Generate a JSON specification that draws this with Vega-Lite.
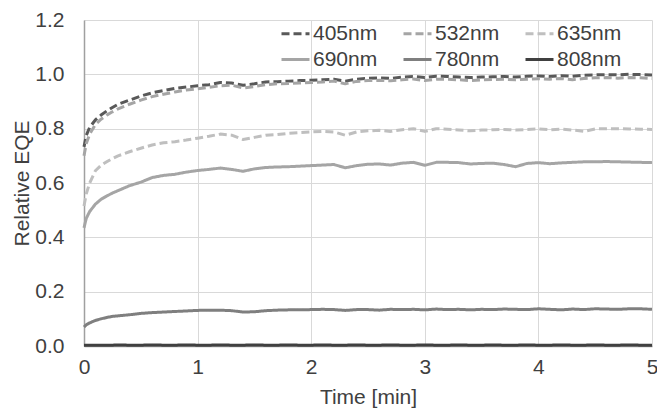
{
  "$schema": "https://vega.github.io/schema/vega-lite/v6.json",
  "width": 568,
  "height": 326,
  "autosize": {"type": "none"},
  "padding": {"left": 84, "top": 20, "right": 5, "bottom": 62},
  "background": "white",
  "config": {
    "font": "Liberation Sans",
    "view": {"stroke": null},
    "axis": {
      "labelFont": "Liberation Sans",
      "titleFont": "Liberation Sans",
      "labelFontSize": 21,
      "titleFontSize": 21,
      "titleFontWeight": "normal",
      "labelColor": "#404040",
      "titleColor": "#404040",
      "gridColor": "#d9d9d9",
      "gridWidth": 1,
      "ticks": false,
      "labelFlush": false,
      "domainColor": "#a0a0a0",
      "domainWidth": 1.5
    },
    "legend": {
      "orient": "none",
      "legendX": 196,
      "legendY": -2,
      "columns": 3,
      "direction": "horizontal",
      "symbolType": "stroke",
      "symbolSize": 784,
      "symbolStrokeWidth": 3,
      "labelFont": "Liberation Sans",
      "labelFontSize": 21,
      "labelColor": "#404040",
      "columnPadding": 19,
      "rowPadding": 0,
      "labelOffset": 2,
      "padding": 0
    }
  },
  "data": {
    "values": [
      {"t": 0, "405nm": 0.733, "532nm": 0.7, "635nm": 0.515, "690nm": 0.435, "780nm": 0.07, "808nm": 0.003},
      {"t": 0.02, "405nm": 0.775, "532nm": 0.745, "635nm": 0.56, "690nm": 0.47, "780nm": 0.078, "808nm": 0.003},
      {"t": 0.05, "405nm": 0.805, "532nm": 0.78, "635nm": 0.6, "690nm": 0.495, "780nm": 0.085, "808nm": 0.003},
      {"t": 0.1, "405nm": 0.832, "532nm": 0.815, "635nm": 0.645, "690nm": 0.522, "780nm": 0.094, "808nm": 0.003},
      {"t": 0.15, "405nm": 0.85, "532nm": 0.835, "635nm": 0.665, "690nm": 0.54, "780nm": 0.1, "808nm": 0.003},
      {"t": 0.2, "405nm": 0.865, "532nm": 0.85, "635nm": 0.678, "690nm": 0.552, "780nm": 0.105, "808nm": 0.003},
      {"t": 0.25, "405nm": 0.878, "532nm": 0.862, "635nm": 0.69, "690nm": 0.563, "780nm": 0.109, "808nm": 0.003},
      {"t": 0.3, "405nm": 0.89, "532nm": 0.873, "635nm": 0.7, "690nm": 0.572, "780nm": 0.111, "808nm": 0.004},
      {"t": 0.4, "405nm": 0.905, "532nm": 0.89, "635nm": 0.715, "690nm": 0.59, "780nm": 0.115, "808nm": 0.003},
      {"t": 0.5, "405nm": 0.92, "532nm": 0.905, "635nm": 0.728, "690nm": 0.603, "780nm": 0.12, "808nm": 0.003},
      {"t": 0.6, "405nm": 0.932, "532nm": 0.918, "635nm": 0.74, "690nm": 0.62, "780nm": 0.123, "808nm": 0.004},
      {"t": 0.7, "405nm": 0.94, "532nm": 0.927, "635nm": 0.748, "690nm": 0.628, "780nm": 0.125, "808nm": 0.003},
      {"t": 0.8, "405nm": 0.948, "532nm": 0.935, "635nm": 0.752, "690nm": 0.632, "780nm": 0.127, "808nm": 0.003},
      {"t": 0.9, "405nm": 0.953, "532nm": 0.942, "635nm": 0.758, "690nm": 0.64, "780nm": 0.129, "808nm": 0.004},
      {"t": 1.0, "405nm": 0.958, "532nm": 0.947, "635nm": 0.765, "690nm": 0.646, "780nm": 0.131, "808nm": 0.003},
      {"t": 1.1, "405nm": 0.962, "532nm": 0.952, "635nm": 0.772, "690nm": 0.65, "780nm": 0.132, "808nm": 0.003},
      {"t": 1.2, "405nm": 0.97, "532nm": 0.958, "635nm": 0.78, "690nm": 0.655, "780nm": 0.132, "808nm": 0.004},
      {"t": 1.3, "405nm": 0.968, "532nm": 0.96, "635nm": 0.776, "690nm": 0.65, "780nm": 0.13, "808nm": 0.003},
      {"t": 1.4, "405nm": 0.96, "532nm": 0.95, "635nm": 0.76, "690nm": 0.643, "780nm": 0.125, "808nm": 0.003},
      {"t": 1.5, "405nm": 0.965, "532nm": 0.955, "635nm": 0.768, "690nm": 0.652, "780nm": 0.126, "808nm": 0.004},
      {"t": 1.6, "405nm": 0.972, "532nm": 0.962, "635nm": 0.776, "690nm": 0.657, "780nm": 0.13, "808nm": 0.003},
      {"t": 1.7, "405nm": 0.973, "532nm": 0.965, "635nm": 0.778, "690nm": 0.659, "780nm": 0.132, "808nm": 0.003},
      {"t": 1.8, "405nm": 0.975, "532nm": 0.966, "635nm": 0.783, "690nm": 0.66, "780nm": 0.133, "808nm": 0.004},
      {"t": 1.9, "405nm": 0.977, "532nm": 0.968, "635nm": 0.786, "690nm": 0.662, "780nm": 0.133, "808nm": 0.003},
      {"t": 2.0, "405nm": 0.978, "532nm": 0.97, "635nm": 0.788, "690nm": 0.664, "780nm": 0.134, "808nm": 0.003},
      {"t": 2.1, "405nm": 0.98, "532nm": 0.972, "635nm": 0.79, "690nm": 0.666, "780nm": 0.135, "808nm": 0.004},
      {"t": 2.2, "405nm": 0.982, "532nm": 0.975, "635nm": 0.788, "690nm": 0.668, "780nm": 0.134, "808nm": 0.003},
      {"t": 2.3, "405nm": 0.975, "532nm": 0.965, "635nm": 0.776, "690nm": 0.656, "780nm": 0.131, "808nm": 0.003},
      {"t": 2.4, "405nm": 0.982, "532nm": 0.974, "635nm": 0.788, "690nm": 0.664, "780nm": 0.134, "808nm": 0.004},
      {"t": 2.5, "405nm": 0.985, "532nm": 0.977, "635nm": 0.792, "690nm": 0.669, "780nm": 0.134, "808nm": 0.003},
      {"t": 2.6, "405nm": 0.987, "532nm": 0.978, "635nm": 0.794, "690nm": 0.67, "780nm": 0.132, "808nm": 0.003},
      {"t": 2.7, "405nm": 0.985, "532nm": 0.976, "635nm": 0.79, "690nm": 0.666, "780nm": 0.135, "808nm": 0.004},
      {"t": 2.8, "405nm": 0.99, "532nm": 0.98, "635nm": 0.796, "690nm": 0.673, "780nm": 0.134, "808nm": 0.003},
      {"t": 2.9, "405nm": 0.992, "532nm": 0.983, "635nm": 0.8, "690nm": 0.676, "780nm": 0.135, "808nm": 0.003},
      {"t": 3.0, "405nm": 0.988, "532nm": 0.977, "635nm": 0.79, "690nm": 0.665, "780nm": 0.133, "808nm": 0.004},
      {"t": 3.1, "405nm": 0.993, "532nm": 0.982, "635nm": 0.8, "690nm": 0.676, "780nm": 0.136, "808nm": 0.003},
      {"t": 3.2, "405nm": 0.992, "532nm": 0.982, "635nm": 0.798, "690nm": 0.676, "780nm": 0.134, "808nm": 0.003},
      {"t": 3.3, "405nm": 0.99, "532nm": 0.98, "635nm": 0.795, "690nm": 0.675, "780nm": 0.135, "808nm": 0.004},
      {"t": 3.4, "405nm": 0.988, "532nm": 0.977, "635nm": 0.792, "690nm": 0.67, "780nm": 0.133, "808nm": 0.003},
      {"t": 3.5, "405nm": 0.99, "532nm": 0.98, "635nm": 0.795, "690nm": 0.672, "780nm": 0.135, "808nm": 0.003},
      {"t": 3.6, "405nm": 0.991, "532nm": 0.981, "635nm": 0.796, "690nm": 0.673, "780nm": 0.134, "808nm": 0.004},
      {"t": 3.7, "405nm": 0.992, "532nm": 0.982, "635nm": 0.797, "690nm": 0.668, "780nm": 0.136, "808nm": 0.003},
      {"t": 3.8, "405nm": 0.99, "532nm": 0.98, "635nm": 0.795, "690nm": 0.66, "780nm": 0.135, "808nm": 0.003},
      {"t": 3.9, "405nm": 0.993, "532nm": 0.982, "635nm": 0.797, "690nm": 0.672, "780nm": 0.134, "808nm": 0.004},
      {"t": 4.0, "405nm": 0.994, "532nm": 0.984, "635nm": 0.799, "690nm": 0.675, "780nm": 0.137, "808nm": 0.003},
      {"t": 4.1, "405nm": 0.992, "532nm": 0.982, "635nm": 0.796, "690nm": 0.671, "780nm": 0.135, "808nm": 0.003},
      {"t": 4.2, "405nm": 0.995, "532nm": 0.985, "635nm": 0.798, "690nm": 0.674, "780nm": 0.133, "808nm": 0.004},
      {"t": 4.3, "405nm": 0.993, "532nm": 0.98, "635nm": 0.795, "690nm": 0.676, "780nm": 0.136, "808nm": 0.003},
      {"t": 4.4, "405nm": 0.997, "532nm": 0.985, "635nm": 0.79, "690nm": 0.678, "780nm": 0.134, "808nm": 0.003},
      {"t": 4.5, "405nm": 0.998, "532nm": 0.987, "635nm": 0.799, "690nm": 0.678, "780nm": 0.137, "808nm": 0.004},
      {"t": 4.6, "405nm": 0.999, "532nm": 0.988, "635nm": 0.8, "690nm": 0.679, "780nm": 0.136, "808nm": 0.003},
      {"t": 4.7, "405nm": 0.998, "532nm": 0.986, "635nm": 0.8, "690nm": 0.678, "780nm": 0.135, "808nm": 0.003},
      {"t": 4.8, "405nm": 1.0, "532nm": 0.988, "635nm": 0.799, "690nm": 0.677, "780nm": 0.137, "808nm": 0.004},
      {"t": 4.9, "405nm": 0.999, "532nm": 0.987, "635nm": 0.798, "690nm": 0.676, "780nm": 0.137, "808nm": 0.003},
      {"t": 5.0, "405nm": 0.998, "532nm": 0.985, "635nm": 0.797, "690nm": 0.675, "780nm": 0.135, "808nm": 0.003}
    ]
  },
  "transform": [
    {"fold": ["405nm", "532nm", "635nm", "690nm", "780nm", "808nm"], "as": ["series", "value"]}
  ],
  "mark": {"type": "line", "strokeWidth": 3, "strokeCap": "butt", "strokeJoin": "round"},
  "encoding": {
    "x": {
      "field": "t",
      "type": "quantitative",
      "scale": {"domain": [0, 5], "nice": false},
      "axis": {"title": "Time [min]", "values": [0, 1, 2, 3, 4, 5], "labelPadding": 10, "titlePadding": 9, "grid": true}
    },
    "y": {
      "field": "value",
      "type": "quantitative",
      "scale": {"domain": [0, 1.2], "nice": false},
      "axis": {"title": "Relative EQE", "values": [0, 0.2, 0.4, 0.6, 0.8, 1.0, 1.2], "format": ".1f", "labelPadding": 20, "titlePadding": 2, "grid": true}
    },
    "color": {
      "field": "series",
      "type": "nominal",
      "scale": {
        "domain": ["405nm", "532nm", "635nm", "690nm", "780nm", "808nm"],
        "range": ["#595959", "#a5a5a5", "#bfbfbf", "#a5a5a5", "#7f7f7f", "#404040"]
      },
      "legend": {"title": null}
    },
    "strokeDash": {
      "field": "series",
      "type": "nominal",
      "scale": {
        "domain": ["405nm", "532nm", "635nm", "690nm", "780nm", "808nm"],
        "range": [[8, 4], [8, 4], [8, 4], [1, 0], [1, 0], [1, 0]]
      },
      "legend": {"title": null}
    }
  }
}
